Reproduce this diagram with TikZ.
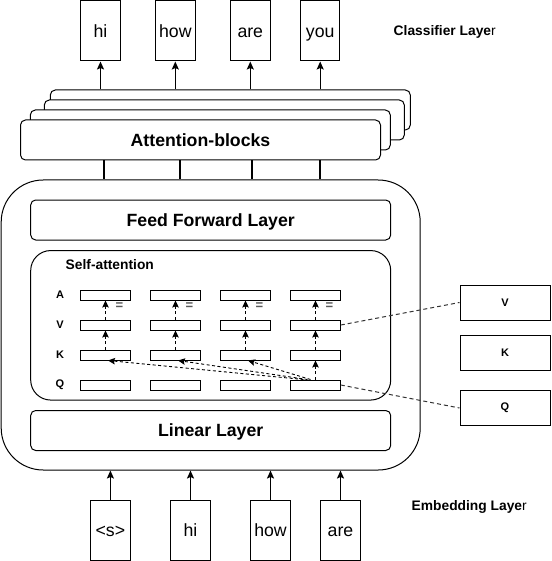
\documentclass[tikz,border=0pt]{standalone}
\usepackage{fontspec}
\setmainfont{Liberation Sans}
\usetikzlibrary{arrows.meta}
\begin{document}
\begin{tikzpicture}[x=1pt,y=-1pt,
  box/.style={draw, line width=1pt, fill=white, inner sep=0pt},
  rbox/.style={box, rounded corners=5pt},
  tok/.style={box, minimum width=39.5pt, minimum height=60pt, text height=13.4pt, text depth=0pt, font=\fontsize{17.7}{20}\selectfont},
  layer/.style={rbox, minimum width=360pt, minimum height=40pt, text height=12.7pt, text depth=0pt, font=\fontsize{17.7}{20}\selectfont\bfseries},
  vec/.style={box, minimum width=49.6pt, minimum height=10pt},
  side/.style={box, minimum width=90pt, minimum height=35pt, font=\fontsize{11}{13}\selectfont\bfseries},
  rowlab/.style={font=\fontsize{11}{12}\selectfont\bfseries},
  eqlab/.style={inner sep=0pt, font=\fontsize{13}{14}\selectfont\bfseries, text=black!65},
  mid/.style={inner sep=0pt, font=\fontsize{13.8}{16}\selectfont},
  arr/.style={line width=1.4pt, -{Stealth[length=8pt,width=7pt,inset=1.5pt]}},
  conn/.style={line width=1.3pt},
  darr/.style={line width=0.9pt, dash pattern=on 3pt off 2.5pt, -{Stealth[length=7pt,width=6.5pt,inset=1.2pt]}},
  dline/.style={line width=1pt, dash pattern=on 4pt off 3pt, draw=black!80},
]
\useasboundingbox (0,0) rectangle (551,561);

% output tokens
\node[tok] (o1) at (100.5,31) {hi};
\node[tok] (o2) at (175.3,31) {how};
\node[tok] (o3) at (250.3,31) {are};
\node[tok] (o4) at (320.2,31) {you};
\node[mid, anchor=west] (clf) at (393.5,32) {{\bfseries Classifier Laye}r};

% attention block stack
\node[layer] (att4) at (230.3,110) {};
\node[layer] (att3) at (224.3,120) {};
\node[layer] (att2) at (210.3,130) {};
\node[layer] (att1) at (200.5,140) {Attention-blocks};

\foreach \i in {1,...,4}{
  \draw[arr] (o\i.south |- att4.north) -- (o\i.south);
}

% outer block
\node[box, rounded corners=42pt, minimum width=419pt, minimum height=290pt] (outer) at (210.7,325) {};
\node[layer] (ff) at (210.7,220) {Feed Forward Layer};
\node[box, rounded corners=20pt, minimum width=360pt, minimum height=149.5pt] (sa) at (210.7,325.3) {};
\node[layer] (lin) at (210.7,430.5) {Linear Layer};
\node[mid, font=\fontsize{13.8}{16}\selectfont\bfseries, anchor=west] (satitle) at (65.5,265) {Self-attention};

\coordinate (c1) at (104,0);
\coordinate (c2) at (180,0);
\coordinate (c3) at (252,0);
\coordinate (c4) at (320,0);
\foreach \i in {1,...,4}{
  \draw[conn] (att1.south -| c\i) -- (outer.north -| c\i);
}

% row labels
\node[rowlab] (la) at (60,295) {A};
\node[rowlab] (lv) at (60,325) {V};
\node[rowlab] (lk) at (60,355) {K};
\node[rowlab] (lq) at (60,385) {Q};

% vectors
\foreach \i/\x in {1/105.5,2/175.5,3/245.5,4/315.5}{
  \node[vec] (a\i) at (\x,295) {};
  \node[vec] (v\i) at (\x,325) {};
  \node[vec] (k\i) at (\x,355) {};
  \node[vec] (q\i) at (\x,385) {};
  \draw[darr] (v\i.north) -- (a\i.south);
  \draw[darr] (k\i.north) -- (v\i.south);
  \node[eqlab] (eq\i) at (\x+14,306) {=};
}
\draw[darr] (q4.north) -- (k4.south);
\draw[darr] ([xshift=-12pt]q4.north) -- ([xshift=2.5pt]k1.south);
\draw[darr] ([xshift=-8pt]q4.north) -- ([xshift=2.5pt]k2.south);
\draw[darr] ([xshift=-5pt]q4.north) -- ([xshift=2.5pt]k3.south);

% side boxes
\node[side] (sv) at (505,302.5) {V};
\node[side] (sk) at (505,352.5) {K};
\node[side] (sq) at (505,408) {Q};
\draw[dline] (v4.east) -- (sv.west);
\draw[dline] (q4.east) -- (sq.west);

% input tokens
\node[tok] (i1) at (110.4,530) {<s>};
\node[tok] (i2) at (190.5,530) {hi};
\node[tok] (i3) at (270.5,530) {how};
\node[tok] (i4) at (340.5,530) {are};
\foreach \i in {1,...,4}{
  \draw[arr] (i\i.north) -- (i\i.north |- outer.south);
}
\node[mid, anchor=west] (emb) at (411.5,507) {{\bfseries Embedding Laye}r};
\end{tikzpicture}
\end{document}
